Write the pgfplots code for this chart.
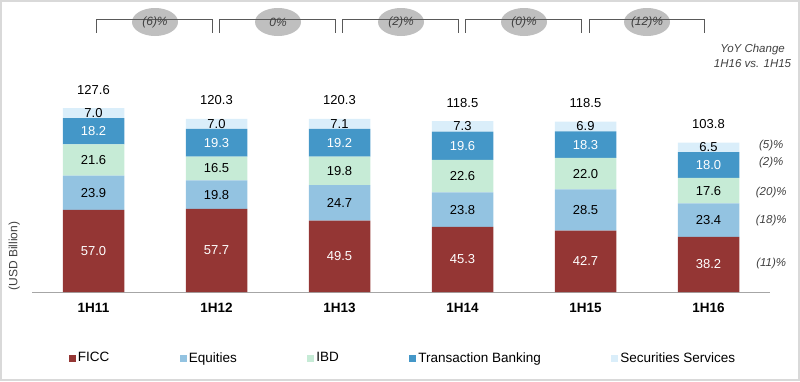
\documentclass[border=0pt]{standalone}
\usepackage{fontspec}
\setmainfont{Liberation Sans}
\usepackage{pgfplots}
\pgfplotsset{compat=1.18}
\definecolor{ficc}{HTML}{943634}
\definecolor{equ}{HTML}{93C3E1}
\definecolor{ibd}{HTML}{C6EBD6}
\definecolor{tb}{HTML}{4497C8}
\definecolor{ss}{HTML}{DAEEFA}
\definecolor{brk}{HTML}{595959}
\definecolor{ell}{HTML}{BFBFBF}
\definecolor{txt}{HTML}{404040}
\pgfplotsset{sqlegend/.style={legend image code/.code={\fill[##1] (0pt,-3.5pt) rectangle (7pt,3.5pt);}}}
\tikzset{
  lw/.style={text=white, font=\fontsize{13}{15}\selectfont, inner sep=0pt},
  lb/.style={text=black, font=\fontsize{13}{15}\selectfont, inner sep=0pt},
  tot/.style={text=black, font=\fontsize{13}{15}\selectfont, inner sep=0pt, yshift=18.5pt},
  brt/.style={text=txt, font=\fontsize{12}{14}\selectfont\itshape, inner sep=0pt},
  pct/.style={text=txt, font=\fontsize{11.5}{14}\selectfont\itshape, inner sep=0pt},
  yoy/.style={text=txt, font=\fontsize{11.5}{15}\selectfont\itshape, align=center, inner sep=0pt},
  ylab/.style={text=txt, font=\fontsize{12}{14}\selectfont, rotate=90, inner sep=0pt},
}
\newcommand{\Acoord}[5]{\coordinate (#1) at (axis cs:#2,#3);}
\newcommand{\Anode}[5]{\node[#4] at (#1) {#5};}
\newcommand{\annots}{%
\A{a0}{0}{28.5}{lw}{57.0}\A{b0}{0}{68.95}{lb}{23.9}\A{c0}{0}{91.7}{lb}{21.6}\A{d0}{0}{111.6}{lw}{18.2}\A{e0}{0}{124.2}{lb}{7.0}%
\A{a1}{1}{28.85}{lw}{57.7}\A{b1}{1}{67.6}{lb}{19.8}\A{c1}{1}{85.75}{lb}{16.5}\A{d1}{1}{103.65}{lw}{19.3}\A{e1}{1}{116.8}{lb}{7.0}%
\A{a2}{2}{24.75}{lw}{49.5}\A{b2}{2}{61.85}{lb}{24.7}\A{c2}{2}{84.1}{lb}{19.8}\A{d2}{2}{103.6}{lw}{19.2}\A{e2}{2}{116.75}{lb}{7.1}%
\A{a3}{3}{22.65}{lw}{45.3}\A{b3}{3}{57.2}{lb}{23.8}\A{c3}{3}{80.4}{lb}{22.6}\A{d3}{3}{101.5}{lw}{19.6}\A{e3}{3}{114.95}{lb}{7.3}%
\A{a4}{4}{21.35}{lw}{42.7}\A{b4}{4}{56.95}{lb}{28.5}\A{c4}{4}{82.2}{lb}{22.0}\A{d4}{4}{102.35}{lw}{18.3}\A{e4}{4}{114.95}{lb}{6.9}%
\A{a5}{5}{19.1}{lw}{38.2}\A{b5}{5}{49.9}{lb}{23.4}\A{c5}{5}{70.4}{lb}{17.6}\A{d5}{5}{88.2}{lw}{18.0}\A{e5}{5}{100.45}{lb}{6.5}%
\A{t0}{0}{127.7}{tot}{127.6}\A{t1}{1}{120.3}{tot}{120.3}\A{t2}{2}{120.3}{tot}{120.3}%
\A{t3}{3}{118.6}{tot}{118.5}\A{t4}{4}{118.4}{tot}{118.5}\A{t5}{5}{103.7}{tot}{103.8}%
\A{k0}{0.5}{187.5}{brt}{(6)\%}\A{k1}{1.5}{187.5}{brt}{0\%}\A{k2}{2.5}{187.5}{brt}{(2)\%}%
\A{k3}{3.5}{187.5}{brt}{(0)\%}\A{k4}{4.5}{187.5}{brt}{(12)\%}%
\A{p0}{5.51}{101.6}{pct}{(5)\%}\A{p1}{5.51}{89.8}{pct}{(2)\%}\A{p2}{5.51}{69.2}{pct}{(20)\%}%
\A{p3}{5.51}{49.5}{pct}{(18)\%}\A{p4}{5.51}{19.9}{pct}{(11)\%}%
\A{yy}{5.358}{164.2}{yoy}{YoY Change\\1H16 vs. 1H15}%
\A{yl}{-0.645}{25}{ylab}{(USD Billion)}%
}
\newcommand{\brk}[1]{%
  \draw[brk, line width=0.9pt] (axis cs:#1+0.028,179.9) -- (axis cs:#1+0.028,189.6) -- (axis cs:#1+0.963,189.6) -- (axis cs:#1+0.963,179.9);
  \fill[ell] (axis cs:#1+0.5,187.5) ellipse [x radius=23pt, y radius=14pt];}
\begin{document}
\begin{tikzpicture}
\path[use as bounding box] (0pt,0pt) rectangle (800pt,381pt);
\draw[line width=2pt, color=black!15] (1pt,1pt) rectangle (799pt,380pt);
\begin{axis}[
  at={(32pt,89pt)}, anchor=south west,
  scale only axis, width=738pt, height=201.6pt,
  xmin=-0.5, xmax=5.5, ymin=0, ymax=140,
  ybar stacked, bar width=0.5,
  axis x line*=bottom, axis y line=none,
  x axis line style={-, draw=black!35, line width=1pt},
  xtick={0,...,5}, xticklabels={1H11,1H12,1H13,1H14,1H15,1H16},
  major tick length=0pt,
  xticklabel style={font=\fontsize{13.5}{16}\selectfont\bfseries, anchor=center, yshift=-16pt},
  ytick=\empty,
  clip=false,
  legend columns=5,
  legend style={draw=none, at={(axis description cs:0.5,0)}, anchor=center, yshift=-66pt, xshift=2pt,
    font=\fontsize{13.5}{16}\selectfont, column sep=0pt,
    /tikz/every even column/.append style={column sep=68.5pt},
    nodes={inner xsep=2pt, inner ysep=0pt}},
]
\addplot[fill=ficc, draw=none, sqlegend] coordinates {(0,57.0) (1,57.7) (2,49.5) (3,45.3) (4,42.7) (5,38.2)};
\addplot[fill=equ, draw=none, sqlegend] coordinates {(0,23.9) (1,19.8) (2,24.7) (3,23.8) (4,28.5) (5,23.4)};
\addplot[fill=ibd, draw=none, sqlegend] coordinates {(0,21.6) (1,16.5) (2,19.8) (3,22.6) (4,22.0) (5,17.6)};
\addplot[fill=tb, draw=none, sqlegend] coordinates {(0,18.2) (1,19.3) (2,19.2) (3,19.6) (4,18.3) (5,18.0)};
\addplot[fill=ss, draw=none, sqlegend] coordinates {(0,7.0) (1,7.0) (2,7.1) (3,7.3) (4,6.9) (5,6.5)};
\legend{FICC,Equities,IBD,Transaction Banking,Securities Services}
\brk{0}\brk{1}\brk{2}\brk{3}\brk{4}
\let\A\Acoord
\annots
\end{axis}
\let\A\Anode
\annots
\end{tikzpicture}
\end{document}
